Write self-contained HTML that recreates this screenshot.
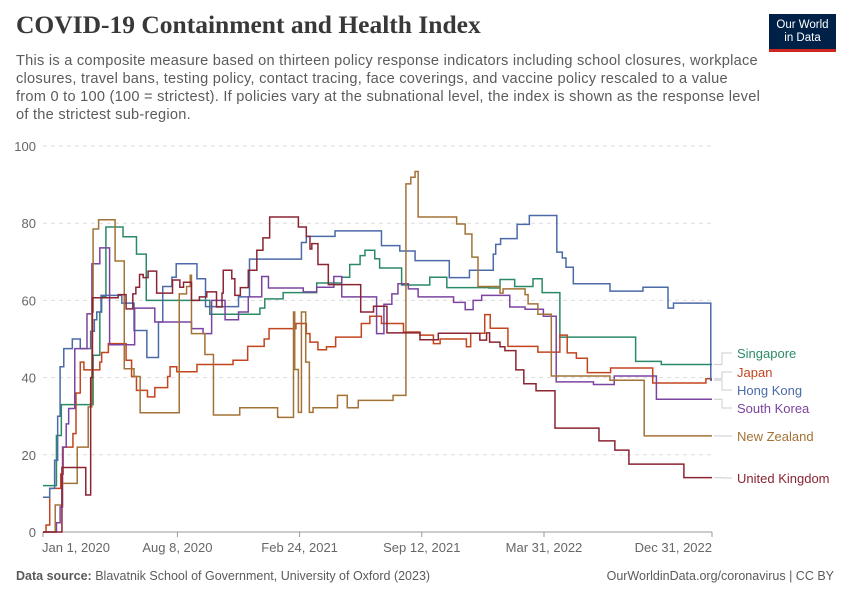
<!DOCTYPE html>
<html><head><meta charset="utf-8"><style>
body{margin:0;background:#fff;font-family:"Liberation Sans",sans-serif;}
#wrap{position:relative;width:850px;height:600px;overflow:hidden;}
h1{position:absolute;left:16px;top:10px;margin:0;font:bold 25.5px "Liberation Serif",serif;color:#383838;white-space:nowrap;}
#sub{position:absolute;left:16px;top:52px;font-size:14.6px;letter-spacing:0.25px;line-height:18px;color:#5b5b5b;white-space:nowrap;}
#logo{position:absolute;left:769px;top:14px;width:67px;height:38px;background:#002147;color:#fff;font-size:11.5px;line-height:13px;text-align:center;box-sizing:border-box;padding-top:5px;border-bottom:3px solid #ce261e;}
.foot{position:absolute;top:569px;font-size:12.5px;color:#5b5b5b;}
</style></head><body>
<div id="wrap">
<h1>COVID-19 Containment and Health Index</h1>
<div id="sub">This is a composite measure based on thirteen policy response indicators including school closures, workplace<br>closures, travel bans, testing policy, contact tracing, face coverings, and vaccine policy rescaled to a value<br>from 0 to 100 (100 = strictest). If policies vary at the subnational level, the index is shown as the response level<br>of the strictest sub-region.</div>
<div id="logo">Our World<br>in Data</div>
<svg id="chart" width="850" height="600" style="position:absolute;left:0;top:0"></svg>
<div class="foot" style="left:16px"><b>Data source:</b> Blavatnik School of Government, University of Oxford (2023)</div>
<div class="foot" style="right:16px">OurWorldinData.org/coronavirus | CC BY</div>
</div>
<script>
const yTicks=[0,20,40,60,80,100];
const xTickDays=[0,220,420,620,820,1095];
const xTickLabels=["Jan 1, 2020","Aug 8, 2020","Feb 24, 2021","Sep 12, 2021","Mar 31, 2022","Dec 31, 2022"];
const seriesNames=["Singapore","Japan","Hong Kong","South Korea","New Zealand","United Kingdom"];
const seriesColors=["#2b8a66","#c2451e","#4b6aa8","#7b44a0","#a37236","#8b2433"];
const labelY=[353,372,390,408,436,478];
const sgDays=[0,17,22,30,70,82,93,96,103,131,153,169,273,355,363,393,448,489,502,519,527,543,551,587,633,661,730,748,772,802,817,846,970,1012];
const sgVals=[12,12,25,33,33,45.8,57,61,79,76.5,72,60,56.4,58,60.4,62,64.5,66,69.3,71.6,73,70.8,68.4,64,66,63.3,63.2,65.4,63.6,65.6,62,50.5,44.2,43.4];
const jpDays=[0,5,11,29,33,49,54,61,67,93,96,107,136,145,153,171,183,204,208,219,252,311,335,362,370,414,431,437,450,464,479,521,535,554,590,617,639,650,693,700,723,732,761,810,846,858,873,891,929,998,1085];
const jpVals=[0,1.8,11.3,15,22,25.5,36,44,42,44,46.5,48.8,44.5,40.3,36.7,35,37.4,40.3,42.8,41.5,43.4,44.5,48.1,50,52.7,54,51.4,49.2,47.2,48,50.5,54,55.9,54,51.8,51,48.8,50,48,51.5,56.3,52.8,48.1,46.6,51,46.4,45,41.3,42.5,38.6,39.7];
const hkDays=[0,11,19,24,28,34,48,61,78,84,88,95,129,149,170,189,196,211,218,252,266,320,338,423,431,478,554,584,609,665,698,737,741,749,776,796,841,850,856,868,928,982,1023,1032,1093];
const hkVals=[9,11.3,18.6,30,42.8,47.5,50,47.5,52,55,57,61.3,59.3,52.2,45.2,54.4,63.6,66,69.5,65.6,58.4,60.9,70.7,75,76.6,78,74.2,72.8,70.3,65.9,67.8,72,74.5,76,79.7,82,72.5,71,68.6,64.3,62.4,63.4,58,59.3,39.3];
const krDays=[0,22,28,32,38,42,52,72,80,93,109,150,183,243,262,276,298,320,336,358,369,426,448,476,489,546,558,571,581,598,614,672,691,704,718,764,789,819,840,901,935,1004];
const krVals=[0,2.4,6.5,22,28,32,47.5,56.5,69.5,73.6,48.5,58,54.4,52.7,51.4,60,55,57,60.9,66.2,63.2,62.2,63.4,66.2,60.9,51.4,59,61.7,64.3,63,60.9,59.5,57.6,60,61.3,58.3,57.7,55.9,38.9,38.2,40.4,34.4];
const nzDays=[0,20,31,56,74,80,82,91,118,133,149,159,223,235,241,243,265,279,322,384,385,410,412,418,423,430,436,442,482,498,516,573,594,602,609,614,677,691,702,712,748,753,789,794,810,832,928,984];
const nzVals=[0,7,12.6,22,32.4,57,78.5,80.9,70.2,42.3,40.3,30.9,61.7,63.6,66.5,51.4,46,30.3,32.2,29.8,29.7,57,42.1,31,57,44,31,32.2,35.4,32.2,34.1,35.4,90.2,91.9,93.4,81.6,79.8,77.2,71.2,63.6,61.9,63,61.5,59.1,56.4,40.4,39.3,24.9];
const ukDays=[0,31,70,78,81,123,136,147,152,158,164,172,186,212,224,230,243,256,268,284,293,295,309,314,323,336,350,360,371,418,431,437,440,450,467,520,541,563,617,647,715,726,731,748,756,774,787,807,838,910,936,959,1049];
const ukVals=[0,16.7,9.6,40,60.7,61.5,57.8,61.7,63.4,66.7,65.9,67.6,61.9,65.3,63.4,64.7,60,60.9,62.2,58.3,61.9,67.8,65.6,61.3,63.3,67.8,73,76.2,81.6,79,76.6,73.3,74.7,69.3,64.1,57,58.5,51.6,49.8,51.5,49.7,51.6,49.2,48,47,42,38.4,36.6,26.9,23.6,21.2,17.6,14.1];
const allDays=[sgDays,jpDays,hkDays,krDays,nzDays,ukDays];
const allVals=[sgVals,jpVals,hkVals,krVals,nzVals,ukVals];
const X0=43,X1=712,Y0=532,Y1=146,DMAX=1095;
const xs=d=>X0+(d/DMAX)*(X1-X0);
const ys=v=>Y0-(v/100)*(Y0-Y1);
const svg=document.getElementById('chart');
const NS='http://www.w3.org/2000/svg';
function mk(tag,attrs){const e=document.createElementNS(NS,tag);for(const k in attrs)e.setAttribute(k,attrs[k]);svg.appendChild(e);return e;}
yTicks.forEach(t=>{
  if(t>0){const g=mk('line',{x1:X0,x2:X1,y1:ys(t),y2:ys(t),stroke:'#ddd','stroke-dasharray':'4,4'});
  
  }
  const tx=mk('text',{x:36,y:ys(t)+5,'text-anchor':'end','font-size':'13','fill':'#666','font-family':'Liberation Sans'});
  tx.textContent=t;
  
  
});
const ax=mk('line',{x1:X0,x2:X1,y1:Y0,y2:Y0,stroke:'#999'});


xTickDays.forEach((d,i)=>{
  const tk=mk('line',{x1:xs(d),x2:xs(d),y1:Y0,y2:Y0+5,stroke:'#999'});
  
  
  const anchor=i==0?'start':(i==xTickDays.length-1?'end':'middle');
  const tx=mk('text',{x:xs(d)+(i==0?-1:0),y:552,'text-anchor':anchor,'font-size':'13','fill':'#666','font-family':'Liberation Sans'});
  tx.textContent=xTickLabels[i];
  
  
});
allDays.forEach((days,si)=>{
  const vals=allVals[si];
  let p='M'+xs(days[0])+','+ys(vals[0]);
  for(let i=1;i<days.length;i++){p+=' H'+xs(days[i])+' V'+ys(vals[i]);}
  p+=' H'+xs(DMAX);
  const path=mk('path',{d:p,fill:'none',stroke:seriesColors[si],'stroke-width':'1.5'});
  
  
  const yEnd=ys(vals[vals.length-1]);
  const c=mk('path',{d:'M714,'+yEnd+' H722 V'+labelY[si]+' H732',fill:'none',stroke:'#ccc'});
  
  
  const lt=mk('text',{x:737,y:labelY[si]+5,'font-size':'13','fill':seriesColors[si],'font-family':'Liberation Sans'});
  lt.textContent=seriesNames[si];
  
  
});
</script>
</body></html>
